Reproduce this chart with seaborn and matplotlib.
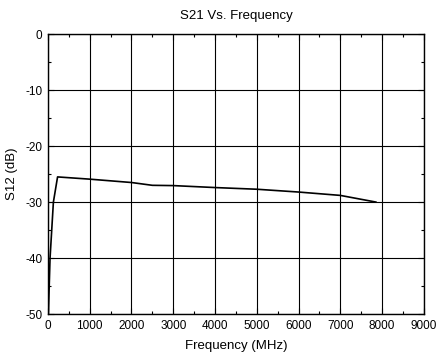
import matplotlib
matplotlib.use("Agg")
import matplotlib.pyplot as plt
from matplotlib.ticker import MultipleLocator
import seaborn as sns
import pandas as pd

# Measured S12 response
freq_mhz = [10, 50, 130, 230, 1000, 2000, 2500, 3000, 4000, 5000, 5400, 6000, 7000, 7860]
s12_db = [-50.0, -40.0, -30.0, -25.5, -25.9, -26.5, -27.0, -27.05, -27.4, -27.7, -27.9, -28.2, -28.8, -30.0]

x_ticks = [0, 1000, 2000, 3000, 4000, 5000, 6000, 7000, 8000, 9000]
y_ticks = [0, -10, -20, -30, -40, -50]

sns.set_style("ticks")
plt.rcParams["font.family"] = ["Liberation Sans", "DejaVu Sans"]
plt.rcParams["axes.unicode_minus"] = False
plt.rcParams["text.color"] = "black"
plt.rcParams["axes.labelcolor"] = "black"
plt.rcParams["xtick.color"] = "black"
plt.rcParams["ytick.color"] = "black"

df = pd.DataFrame({"Frequency (MHz)": freq_mhz, "S12 (dB)": s12_db})

fig = plt.figure(figsize=(4.36, 3.59), dpi=100)
ax = fig.add_axes([0.110, 0.125, 0.862, 0.780])

sns.lineplot(data=df, x="Frequency (MHz)", y="S12 (dB)", ax=ax,
             color="black", linewidth=1.2, sort=False)

ax.set_xlim(0, 9000)
ax.set_ylim(-50, 0)
ax.set_xticks(x_ticks)
ax.set_yticks(y_ticks)
ax.xaxis.set_minor_locator(MultipleLocator(500))
ax.yaxis.set_minor_locator(MultipleLocator(5))
ax.grid(True, which="major", color="black", linewidth=0.8)
ax.set_axisbelow(True)

ax.tick_params(which="both", direction="in", top=True, right=True,
               labelsize=8.5, color="black", labelcolor="black", width=0.8)
ax.tick_params(which="major", length=4, pad=4)
ax.tick_params(which="minor", length=2.5)
for s in ax.spines.values():
    s.set_color("black")
    s.set_linewidth(1.0)

ax.set_title("S21 Vs. Frequency", fontsize=9.5, pad=11, color="black")
ax.set_xlabel("Frequency (MHz)", fontsize=9.5, labelpad=6, color="black")
ax.set_ylabel("S12 (dB)", fontsize=9.5, labelpad=5, color="black")

fig.savefig("out.png", dpi=100, facecolor="white")
